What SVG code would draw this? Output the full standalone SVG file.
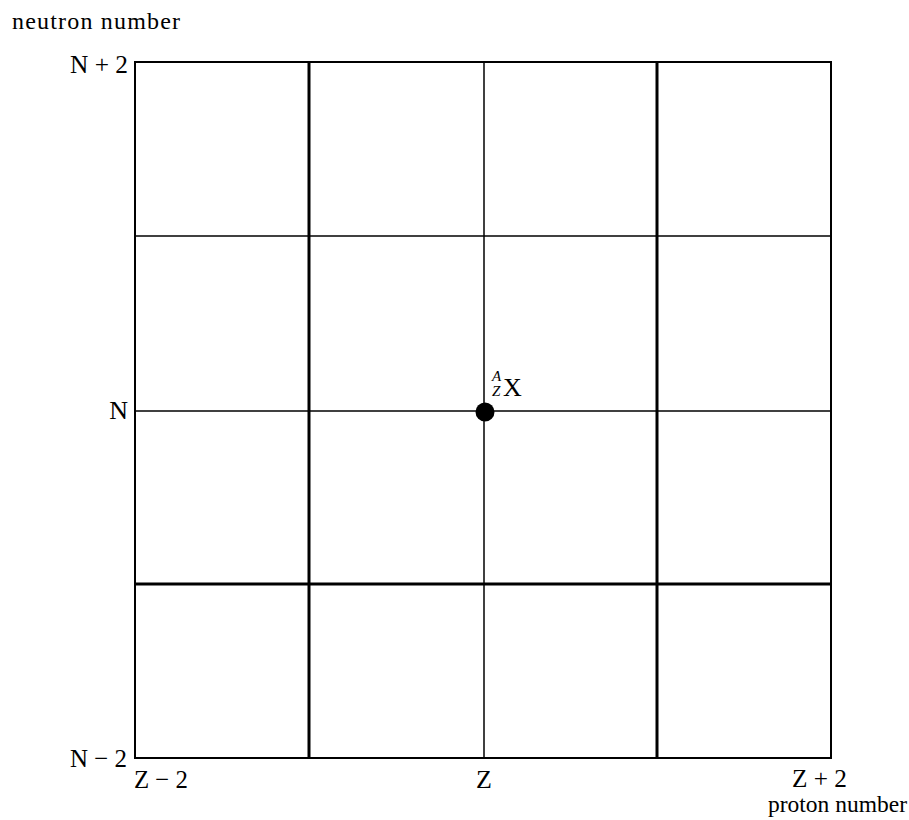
<svg xmlns="http://www.w3.org/2000/svg" width="909" height="820" viewBox="0 0 909 820">
<style>
text{font-family:"Liberation Serif","Times New Roman",serif;fill:#000;font-size:26px}
.ax{font-size:24px}
.thin{stroke:#000;stroke-width:1.5;fill:none}
.thick{stroke:#000;stroke-width:3;fill:none}
.it{font-style:italic;font-size:15px}
</style>
<rect width="909" height="820" fill="#fff"/>
<g id="grid">
<line class="thin" x1="135" y1="236" x2="831" y2="236"/>
<line class="thin" x1="135" y1="411" x2="831" y2="411"/>
<line class="thick" x1="135" y1="584" x2="831" y2="584"/>
<line class="thick" x1="309" y1="62" x2="309" y2="758"/>
<line class="thin" x1="484" y1="62" x2="484" y2="758"/>
<line class="thick" x1="657" y1="62" x2="657" y2="758"/>
<rect x="135" y="62" width="696" height="696" fill="none" stroke="#000" stroke-width="2"/>
</g>
<g id="axis-labels">
<text class="ax" x="12" y="29" textLength="168" lengthAdjust="spacing">neutron number</text>
<text x="128" y="73" text-anchor="end" textLength="58" lengthAdjust="spacingAndGlyphs">N + 2</text>
<text x="128" y="419" text-anchor="end">N</text>
<text x="127" y="767" text-anchor="end" textLength="57" lengthAdjust="spacingAndGlyphs">N − 2</text>
<text x="134" y="788" textLength="54" lengthAdjust="spacingAndGlyphs">Z − 2</text>
<text x="484" y="788" text-anchor="middle">Z</text>
<text x="792" y="787" textLength="55" lengthAdjust="spacingAndGlyphs">Z + 2</text>
<text class="ax" x="768" y="812" textLength="139" lengthAdjust="spacingAndGlyphs">proton number</text>
</g>
<g id="nuclide">
<circle cx="485" cy="412" r="9.5" fill="#000"/>
<text class="it" x="492" y="381">A</text>
<text class="it" x="492" y="396">Z</text>
<text x="503" y="396" font-size="23">X</text>
</g>
</svg>
